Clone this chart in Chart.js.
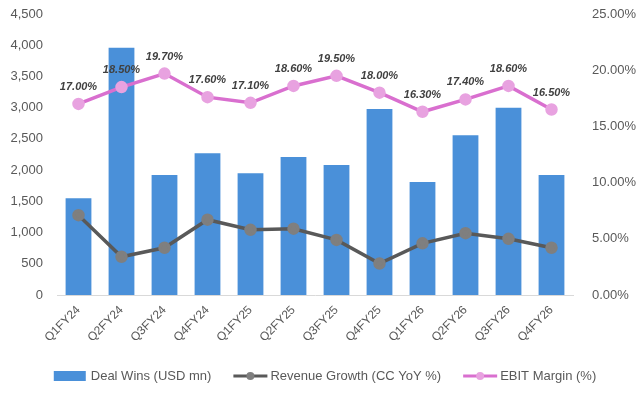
<!DOCTYPE html>
<html>
<head>
<meta charset="utf-8">
<script src="https://cdn.jsdelivr.net/npm/chart.js@4/dist/chart.umd.min.js"></script>
<style>
html,body{margin:0;padding:0;background:#fff;}
#wrap{width:644px;height:395px;position:relative;}
</style>
</head>
<body>
<div id="wrap"><canvas id="c" width="644" height="395"></canvas></div>
<script>
const categories = ["Q1FY24","Q2FY24","Q3FY24","Q4FY24","Q1FY25","Q2FY25","Q3FY25","Q4FY25","Q1FY26","Q2FY26","Q3FY26","Q4FY26"];
const dealWins = [1550, 3960, 1920, 2270, 1950, 2210, 2080, 2980, 1810, 2560, 3000, 1920];
const revenueGrowth = [7.1, 3.4, 4.2, 6.7, 5.8, 5.9, 4.9, 2.8, 4.6, 5.5, 5.0, 4.2];
const ebitMargin = [17.0, 18.5, 19.7, 17.6, 17.1, 18.6, 19.5, 18.0, 16.3, 17.4, 18.6, 16.5];
const leftTicks = [0, 500, 1000, 1500, 2000, 2500, 3000, 3500, 4000, 4500];
const rightTicks = [0, 5, 10, 15, 20, 25];
const seriesNames = ["Deal Wins (USD mn)", "Revenue Growth (CC YoY %)", "EBIT Margin (%)"];

const FONT = "'Liberation Sans', Arial, sans-serif";
const TXT = "#595959";

const ebitLabels = {
  id: 'ebitLabels',
  afterDatasetsDraw(chart) {
    const ctx = chart.ctx;
    const meta = chart.getDatasetMeta(2);
    ctx.save();
    ctx.font = "italic bold 11px " + FONT;
    ctx.fillStyle = "#404040";
    ctx.textAlign = "center";
    ctx.textBaseline = "middle";
    meta.data.forEach((pt, i) => {
      ctx.fillText(ebitMargin[i].toFixed(2) + "%", pt.x, pt.y - 17);
    });
    ctx.restore();
  }
};

const customLegend = {
  id: 'customLegend',
  afterDraw(chart) {
    const ctx = chart.ctx;
    ctx.save();
    ctx.font = "13px " + FONT;
    ctx.textBaseline = "middle";
    ctx.fillStyle = TXT;
    const y = 376;
    const items = [
      {type:'bar', color:'#4A90D9'},
      {type:'line', color:'#595959', pt:'#7F7F7F'},
      {type:'line', color:'#D96FCF', pt:'#E8A2E0'}
    ];
    const iconW = 34, gap = 3, spacing = 22;
    let total = 0;
    const widths = seriesNames.map(n => ctx.measureText(n).width);
    widths.forEach(w => total += iconW + gap + w);
    total += spacing * (items.length - 1);
    let x = (chart.width - total) / 2 + 3;
    items.forEach((it, i) => {
      if (it.type === 'bar') {
        ctx.fillStyle = it.color;
        ctx.fillRect(x, y - 5, iconW - 2, 10);
      } else {
        ctx.strokeStyle = it.color;
        ctx.lineWidth = 3;
        ctx.beginPath(); ctx.moveTo(x, y); ctx.lineTo(x + iconW, y); ctx.stroke();
        ctx.fillStyle = it.pt;
        ctx.beginPath(); ctx.arc(x + iconW / 2, y, 4, 0, Math.PI * 2); ctx.fill();
      }
      ctx.fillStyle = TXT;
      ctx.fillText(seriesNames[i], x + iconW + gap, y);
      x += iconW + gap + widths[i] + spacing;
    });
    ctx.restore();
  }
};

new Chart(document.getElementById('c'), {
  data: {
    labels: categories,
    datasets: [
      {type:'bar', label: seriesNames[0], data: dealWins, backgroundColor:'#4A90D9', yAxisID:'y', order:3,
       categoryPercentage: 1.0, barPercentage: 0.6},
      {type:'line', label: seriesNames[1], data: revenueGrowth, borderColor:'#595959', borderWidth:3.5,
       pointBackgroundColor:'#7F7F7F', pointBorderColor:'#7F7F7F', pointRadius:4.5, yAxisID:'y1', order:2, tension:0},
      {type:'line', label: seriesNames[2], data: ebitMargin, borderColor:'#D96FCF', borderWidth:3.5,
       pointBackgroundColor:'#E8A2E0', pointBorderColor:'#E8A2E0', pointRadius:4.5, yAxisID:'y1', order:1, tension:0}
    ]
  },
  options: {
    responsive: false,
    animation: false,
    events: [],
    layout: {padding: {top: 14, bottom: 40, left: 0, right: 0}},
    plugins: {legend: {display:false}, tooltip: {enabled:false}},
    scales: {
      x: {
        grid: {display:false, drawTicks:false},
        border: {display:true, color:'#D9D9D9', width:1},
        ticks: {color: TXT, font:{family: FONT, size:12}, minRotation:45, maxRotation:45, padding:8},
        afterFit(s){ s.height = 60; }
      },
      y: {
        position:'left', min:0, max:4500,
        afterBuildTicks(s){ s.ticks = leftTicks.map(v => ({value:v})); },
        grid: {display:false, drawTicks:true, tickLength:13},
        border: {display:false},
        ticks: {color: TXT, font:{family: FONT, size:13}, padding:1,
          callback: v => v.toLocaleString('en-US')},
        afterFit(s){ s.width = 57; }
      },
      y1: {
        position:'right', min:0, max:25,
        afterBuildTicks(s){ s.ticks = rightTicks.map(v => ({value:v})); },
        grid: {display:false, drawTicks:true, tickLength:18},
        border: {display:false},
        ticks: {color: TXT, font:{family: FONT, size:13}, padding:1,
          callback: v => v.toFixed(2) + '%'},
        afterFit(s){ s.width = 71; }
      }
    }
  },
  plugins: [ebitLabels, customLegend]
});
</script>
</body>
</html>
